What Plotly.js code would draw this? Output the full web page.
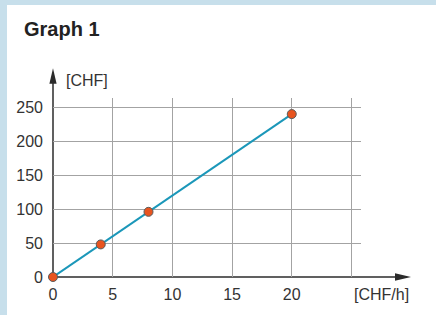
<!DOCTYPE html>
<html>
<head>
<meta charset="utf-8">
<script src="https://cdn.plot.ly/plotly-3.0.1.min.js"></script>
<style>
  html, body { margin: 0; padding: 0; background: #c7dfeb; width: 436px; height: 315px; overflow: hidden; }
  #chart { position: absolute; left: 7px; top: 5px; width: 429px; height: 310px; background: #ffffff; }
</style>
</head>
<body>
<div id="chart"></div>
<script>
// Data
const wageX = [0, 4, 8, 20];          // [CHF/h]
const earnY = [0, 48, 96, 240];        // [CHF]
const xTickVals = [0, 5, 10, 15, 20, 25];
const xTickText = ['0', '5', '10', '15', '20', ''];
const yTickVals = [0, 50, 100, 150, 200, 250];
const yTickText = ['0', '50', '100', '150', '200', '250'];
const chartTitle = 'Graph 1';
const xUnit = '[CHF/h]';
const yUnit = '[CHF]';

const axisColor = '#2b2b2b';
const gridColor = '#a3a3a3';
const textColor = '#333333';
const fontFam = '"Liberation Sans", Arial, sans-serif';
const tickSize = 16;

// plot area: 308 x 179.3 px
const PW = 308, PH = 179.3;
const px = v => v / PW, py = v => v / PH;

const trace = {
  x: wageX, y: earnY, type: 'scatter', mode: 'lines+markers',
  line: {color: '#1b97b9', width: 2},
  marker: {color: '#e8541f', size: 9, line: {color: '#5a5a5a', width: 1}},
  cliponaxis: false, hoverinfo: 'skip'
};

const shapes = [
  // x axis line + arrow head
  {type: 'line', xref: 'paper', yref: 'paper', x0: 0, x1: px(345), y0: 0, y1: 0,
   line: {color: axisColor, width: 1.5}, layer: 'between'},
  {type: 'path', xref: 'paper', yref: 'paper', layer: 'between',
   path: `M ${px(358)},0 L ${px(342)},${py(3.8)} L ${px(342)},${-py(3.8)} Z`,
   fillcolor: axisColor, line: {width: 0}},
  // y axis line + arrow head
  {type: 'line', xref: 'paper', yref: 'paper', x0: 0, x1: 0, y0: 0, y1: py(196),
   line: {color: axisColor, width: 1.5}, layer: 'between'},
  {type: 'path', xref: 'paper', yref: 'paper', layer: 'between',
   path: `M 0,${py(209)} L ${px(3.6)},${py(193.5)} L ${-px(3.6)},${py(193.5)} Z`,
   fillcolor: axisColor, line: {width: 0}}
];

const layout = {
  width: 429, height: 310,
  margin: {l: 46, r: 75, t: 93, b: 37.7, pad: 0},
  paper_bgcolor: '#ffffff', plot_bgcolor: '#ffffff',
  showlegend: false,
  font: {family: fontFam, size: tickSize, color: textColor},
  title: {
    text: '<b>' + chartTitle + '</b>',
    font: {family: fontFam, size: 20, color: '#222222'},
    xref: 'container', yref: 'container', x: 17 / 429, xanchor: 'left',
    y: 1 - 24 / 310, yanchor: 'middle'
  },
  xaxis: {
    range: [0, 25.8], tickmode: 'array', tickvals: xTickVals, ticktext: xTickText,
    showgrid: true, gridcolor: gridColor, gridwidth: 1, zeroline: false, showline: false,
    ticks: '', ticklabelstandoff: 6, tickfont: {size: tickSize, color: textColor, family: fontFam},
    fixedrange: true
  },
  yaxis: {
    range: [0, 263.7], tickmode: 'array', tickvals: yTickVals, ticktext: yTickText,
    showgrid: true, gridcolor: gridColor, gridwidth: 1, zeroline: false, showline: false,
    ticks: '', ticklabelstandoff: 9, tickfont: {size: tickSize, color: textColor, family: fontFam},
    fixedrange: true
  },
  shapes: shapes,
  annotations: [
    {text: yUnit, xref: 'paper', yref: 'paper', x: px(11), y: py(197.3),
     xanchor: 'left', yanchor: 'middle', showarrow: false,
     font: {size: tickSize, color: textColor, family: fontFam}},
    {text: xUnit, xref: 'paper', yref: 'paper', x: px(358.5), y: -py(17.7),
     xanchor: 'right', yanchor: 'middle', showarrow: false,
     font: {size: tickSize, color: textColor, family: fontFam}}
  ]
};

Plotly.newPlot('chart', [trace], layout, {staticPlot: true, displayModeBar: false});
</script>
</body>
</html>
